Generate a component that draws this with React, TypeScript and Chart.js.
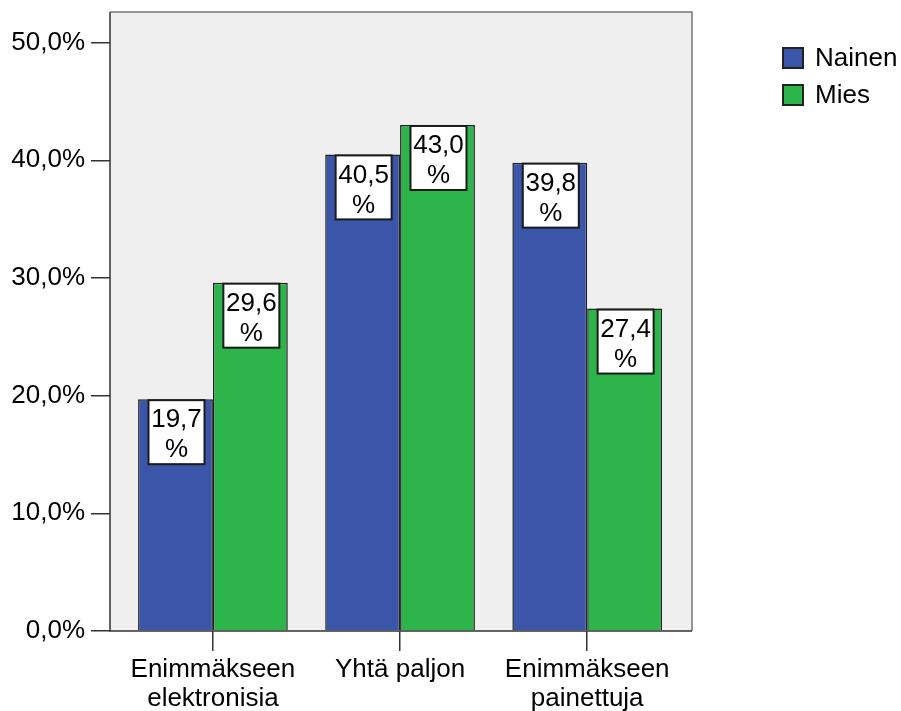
import React, { useEffect, useRef } from "react";
import { Chart, registerables } from "chart.js";

Chart.register(...registerables);

const categories: string[][] = [["Enimmäkseen", "elektronisia"], ["Yhtä paljon"], ["Enimmäkseen", "painettuja"]];
const categoryPositions = [1, 2, 3];
const seriesNames = ["Nainen", "Mies"];
const nainenValues = [19.7, 40.5, 39.8];
const miesValues = [29.6, 43.0, 27.4];
const yTickValues = [0, 10, 20, 30, 40, 50];
const seriesColors = ["#3b56a8", "#2db44b"];

const FONT = "'Liberation Sans', Arial, sans-serif";
const fmt = (v: number) => v.toFixed(1).replace(".", ",");

const framePlugin = {
  id: "frameAndLabels",
  beforeDraw(chart: any) {
    const { ctx, chartArea: a } = chart;
    ctx.save();
    ctx.fillStyle = "#ffffff";
    ctx.fillRect(0, 0, chart.width, chart.height);
    ctx.fillStyle = "#efefef";
    ctx.fillRect(a.left, a.top, a.right - a.left, a.bottom - a.top);
    ctx.restore();
  },
  afterDatasetsDraw(chart: any) {
    const { ctx, chartArea: a } = chart;
    ctx.save();
    ctx.lineWidth = 1.5;
    ctx.strokeStyle = "#777";
    ctx.beginPath();
    ctx.moveTo(a.left, a.top);
    ctx.lineTo(a.right, a.top);
    ctx.lineTo(a.right, a.bottom);
    ctx.stroke();
    ctx.strokeStyle = "#333";
    ctx.beginPath();
    ctx.moveTo(a.left, a.top);
    ctx.lineTo(a.left, a.bottom);
    ctx.lineTo(a.right, a.bottom);
    ctx.stroke();

    chart.data.datasets.forEach((ds: any, di: number) => {
      const meta = chart.getDatasetMeta(di);
      meta.data.forEach((el: any, i: number) => {
        const v = ds.data[i].y;
        const w = 56, h = 64;
        const left = el.x - w / 2 + 1;
        const top = el.y + 1;
        ctx.fillStyle = "#ffffff";
        ctx.fillRect(left, top, w, h);
        ctx.lineWidth = 2;
        ctx.strokeStyle = "#1a1a1a";
        ctx.strokeRect(left, top, w, h);
        ctx.fillStyle = "#000";
        ctx.font = `26px ${FONT}`;
        ctx.textAlign = "center";
        ctx.textBaseline = "middle";
        ctx.fillText(fmt(v), left + w / 2, top + 20);
        ctx.fillText("%", left + w / 2, top + 50);
      });
    });
    ctx.restore();
  },
  afterDraw(chart: any) {
    const { ctx } = chart;
    ctx.save();
    chart.data.datasets.forEach((ds: any, di: number) => {
      const bx = 783, by = 48 + di * 37;
      ctx.fillStyle = ds.backgroundColor;
      ctx.fillRect(bx, by, 20, 20);
      ctx.lineWidth = 2;
      ctx.strokeStyle = "#222";
      ctx.strokeRect(bx, by, 20, 20);
      ctx.fillStyle = "#000";
      ctx.font = `26px ${FONT}`;
      ctx.textAlign = "left";
      ctx.textBaseline = "middle";
      ctx.fillText(ds.label, 815, by + 11);
    });
    ctx.restore();
  },
};

export default function App() {
  const ref = useRef<HTMLCanvasElement>(null);
  useEffect(() => {
    if (!ref.current) return;
    const chart = new Chart(ref.current, {
      type: "bar",
      data: {
        datasets: [
          {
            label: seriesNames[0],
            data: categoryPositions.map((x, i) => ({ x, y: nainenValues[i] })),
            backgroundColor: seriesColors[0],
            borderColor: "#222",
            borderWidth: 1.5,
          },
          {
            label: seriesNames[1],
            data: categoryPositions.map((x, i) => ({ x, y: miesValues[i] })),
            backgroundColor: seriesColors[1],
            borderColor: "#222",
            borderWidth: 1.5,
          },
        ],
      },
      options: {
        animation: false,
        responsive: false,
        categoryPercentage: 0.8,
        barPercentage: 1,
        layout: { padding: { top: 12, right: 209, left: 0, bottom: 0 } },
        plugins: { legend: { display: false }, tooltip: { enabled: false } },
        scales: {
          x: {
            type: "linear",
            min: 0.45,
            max: 3.56,
            offset: false,
            grid: { offset: false, drawOnChartArea: false, drawTicks: true, tickLength: 20, color: "#333", lineWidth: 1.5 },
            border: { display: false },
            afterBuildTicks: (axis: any) => {
              axis.ticks = categoryPositions.map((v) => ({ value: v }));
            },
            afterFit: (axis: any) => {
              axis.height = 80;
              axis.paddingLeft = 0;
              axis.paddingRight = 0;
            },
            ticks: {
              color: "#000",
              padding: 4,
              maxRotation: 0,
              autoSkip: false,
              font: { family: FONT, size: 26, lineHeight: 1.12 },
              callback: (v: any) => categories[Math.round(Number(v)) - 1] ?? "",
            },
          },
          y: {
            min: 0,
            max: 52.6,
            grid: { drawOnChartArea: false, drawTicks: true, tickLength: 19, color: "#333", lineWidth: 1.5 },
            border: { display: false },
            afterBuildTicks: (axis: any) => {
              axis.ticks = yTickValues.map((v) => ({ value: v }));
            },
            afterFit: (axis: any) => {
              axis.width = 110;
              axis.paddingTop = 0;
              axis.paddingBottom = 0;
            },
            ticks: {
              color: "#000",
              padding: 6,
              font: { family: FONT, size: 26 },
              callback: (v: any) => fmt(Number(v)) + "%",
            },
          },
        },
      },
      plugins: [framePlugin],
    } as any);
    return () => chart.destroy();
  }, []);
  return (
    <canvas
      ref={ref}
      width={901}
      height={711}
      style={{ display: "block", position: "absolute", left: 0, top: 0 }}
    />
  );
}
